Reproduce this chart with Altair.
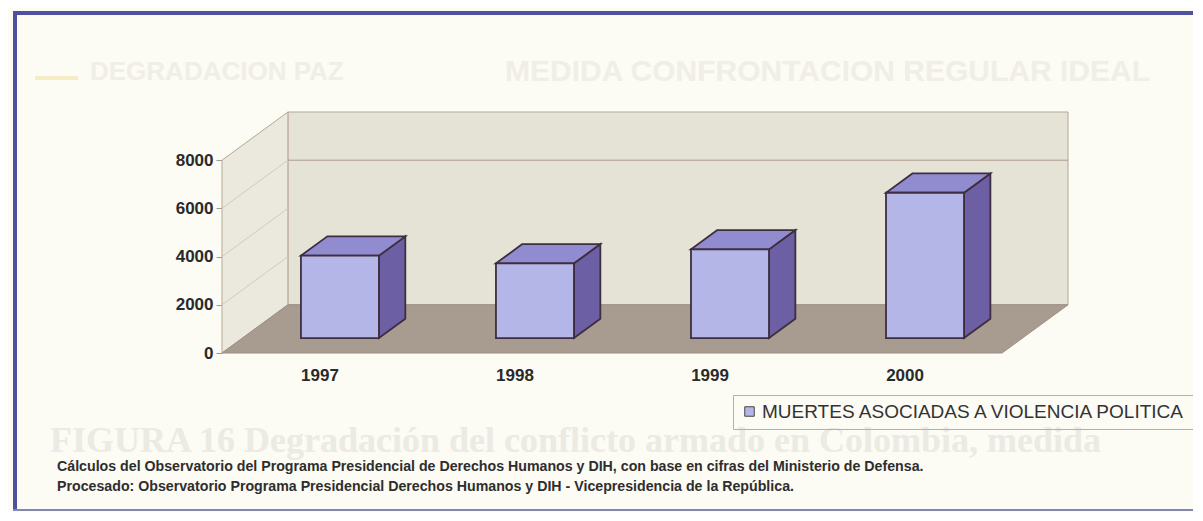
import altair as alt
import pandas as pd

# ---------------- data ----------------
years = ["1997", "1998", "1999", "2000"]
deaths = [3420, 3100, 3680, 6030]
y_ticks = [0, 2000, 4000, 6000, 8000]
back_grid_values = [6000]
side_grid_values = [2000, 4000, 6000]
series_name = "MUERTES ASOCIADAS A VIOLENCIA POLITICA"
note_lines = [
    "Cálculos del Observatorio del Programa Presidencial de Derechos Humanos y DIH, con base en cifras del Ministerio de Defensa.",
    "Procesado: Observatorio Programa Presidencial Derechos Humanos y DIH - Vicepresidencia de la República.",
]
ghost_left = "DEGRADACION PAZ"
ghost_right = "MEDIDA CONFRONTACION REGULAR IDEAL"
ghost_figure = "FIGURA 16   Degradación del conflicto armado en Colombia, medida"

# ---------------- 3-D geometry (in data units) ----------------
N = len(years)
DEPTH_U = 0.338      # horizontal shift of full floor depth (category units)
DEPTH_V = 2000       # vertical shift of full floor depth (value units)
Y_MAX = 8000
BAR_W = 0.40
F1, F2 = 0.31, 0.71  # bar front / back depth fractions

W, H = 846, 241
X_DOM = [0, N + DEPTH_U]
Y_DOM = [0, Y_MAX + DEPTH_V]

FONT = "Liberation Sans, Arial, sans-serif"
FRONT, TOP, SIDE, EDGE = "#b3b6e6", "#918bcf", "#6c5fa4", "#3d2f3f"
WALL, SIDEWALL, FLOOR, WALL_EDGE = "#e5e2d6", "#ebe8dd", "#a89b8f", "#b5a796"

xs = alt.Scale(domain=X_DOM, nice=False, zero=False)
ys = alt.Scale(domain=Y_DOM, nice=False, zero=False)

# walls & floor
back_df = pd.DataFrame({"x": [DEPTH_U], "x2": [N + DEPTH_U], "y": [DEPTH_V], "y2": [Y_MAX + DEPTH_V]})
side_df = pd.DataFrame({"x": [0, DEPTH_U], "lo": [0, DEPTH_V], "hi": [Y_MAX, Y_MAX + DEPTH_V]})
floor_df = pd.DataFrame({"y": [0, DEPTH_V], "xl": [0, DEPTH_U], "xr": [N, N + DEPTH_U]})

back = alt.Chart(back_df).mark_rect(fill=WALL, stroke=WALL_EDGE, strokeWidth=1).encode(
    x=alt.X("x:Q", scale=xs,
            axis=alt.Axis(values=[i + 0.5 for i in range(N)],
                          labelExpr="[" + ",".join(f"'{y}'" for y in years) + "][floor(datum.value)]",
                          title=None, domain=False, ticks=False, grid=False,
                          labelFont=FONT, labelFontWeight="bold", labelFontSize=17,
                          labelColor="#2a2a2a", labelPadding=14)),
    x2="x2:Q",
    y=alt.Y("y:Q", scale=ys,
            axis=alt.Axis(values=y_ticks, format="d", title=None, domain=False, grid=False,
                          tickSize=6, tickColor="#9a9a9a", labelPadding=3,
                          labelFont=FONT, labelFontWeight="bold", labelFontSize=17,
                          labelColor="#2a2a2a")),
    y2="y2:Q",
)

side = alt.Chart(side_df).mark_area(fill=SIDEWALL, stroke=WALL_EDGE, strokeWidth=1).encode(
    x=alt.X("x:Q", scale=xs), y=alt.Y("lo:Q", scale=ys), y2="hi:Q")

floor = alt.Chart(floor_df).mark_area(orient="horizontal", fill=FLOOR, stroke="#9c8f84", strokeWidth=1).encode(
    y=alt.Y("y:Q", scale=ys), x=alt.X("xl:Q", scale=xs), x2="xr:Q")

grid_back_df = pd.DataFrame({"x": DEPTH_U, "x2": N + DEPTH_U,
                             "y": [g + DEPTH_V for g in back_grid_values]})
grid_back = alt.Chart(grid_back_df).mark_rule(stroke="#a89a8a", strokeWidth=1).encode(
    x=alt.X("x:Q", scale=xs), x2="x2:Q", y=alt.Y("y:Q", scale=ys))

grid_side_df = pd.DataFrame({"x": 0.0, "x2": DEPTH_U, "y": side_grid_values,
                             "y2": [g + DEPTH_V for g in side_grid_values]})
grid_side = alt.Chart(grid_side_df).mark_rule(stroke="#d3c9be", strokeWidth=1).encode(
    x=alt.X("x:Q", scale=xs), x2="x2:Q", y=alt.Y("y:Q", scale=ys), y2="y2:Q")

# bars
dd_u = (F2 - F1) * DEPTH_U
dd_v = (F2 - F1) * DEPTH_V
front_rows, side_rows, top_rows = [], [], []
for i, (yr, v) in enumerate(zip(years, deaths)):
    c = i + 0.5 + F1 * DEPTH_U
    xl, xr = c - BAR_W / 2, c + BAR_W / 2
    y0 = F1 * DEPTH_V
    front_rows.append({"year": yr, "serie": series_name, "x": xl, "x2": xr, "y": y0, "y2": y0 + v})
    side_rows += [{"year": yr, "x": xr, "lo": y0, "hi": y0 + v},
                  {"year": yr, "x": xr + dd_u, "lo": y0 + dd_v, "hi": y0 + dd_v + v}]
    top_rows += [{"year": yr, "y": y0 + v, "xl": xl, "xr": xr},
                 {"year": yr, "y": y0 + v + dd_v, "xl": xl + dd_u, "xr": xr + dd_u}]

bar_side = alt.Chart(pd.DataFrame(side_rows)).mark_area(fill=SIDE, stroke=EDGE, strokeWidth=1.8).encode(
    x=alt.X("x:Q", scale=xs), y=alt.Y("lo:Q", scale=ys), y2="hi:Q", detail="year:N")
bar_top = alt.Chart(pd.DataFrame(top_rows)).mark_area(orient="horizontal", fill=TOP, stroke=EDGE, strokeWidth=1.8).encode(
    y=alt.Y("y:Q", scale=ys), x=alt.X("xl:Q", scale=xs), x2="xr:Q", detail="year:N")
bar_front = alt.Chart(pd.DataFrame(front_rows)).mark_rect(stroke=EDGE, strokeWidth=1.8).encode(
    x=alt.X("x:Q", scale=xs), x2="x2:Q", y=alt.Y("y:Q", scale=ys), y2="y2:Q",
    color=alt.Color("serie:N", scale=alt.Scale(domain=[series_name], range=[FRONT]),
                    legend=alt.Legend(orient="none", legendX=511, legendY=283, title=None,
                                      symbolType="square", symbolSize=90,
                                      symbolStrokeColor="#444", symbolStrokeWidth=1,
                                      strokeColor="#b0b0b0", padding=7, labelLimit=800,
                                      labelFont=FONT, labelFontSize=19, labelColor="#333",
                                      labelOffset=3)),
)

# notes
notes = alt.Chart(pd.DataFrame({"k": [0]})).mark_text(
    align="left", baseline="middle", font=FONT, fontWeight="bold", fontSize=14.2,
    color="#2e2e2e", lineHeight=20).encode(
    x=alt.value(-165), y=alt.value(355), text=alt.value(note_lines))

# faint bleed-through text of the scanned page
ghost1 = alt.Chart(pd.DataFrame({"k": [0]})).mark_text(
    align="left", baseline="middle", font=FONT, fontWeight="bold", fontSize=26, color="#f0eee7").encode(
    x=alt.value(90 - 222), y=alt.value(72 - 112), text=alt.value(ghost_left))
ghost2 = alt.Chart(pd.DataFrame({"k": [0]})).mark_text(
    align="left", baseline="middle", font=FONT, fontWeight="bold", fontSize=30, color="#f0eee7").encode(
    x=alt.value(505 - 222), y=alt.value(72 - 112), text=alt.value(ghost_right))
ghost_dash = alt.Chart(pd.DataFrame({"k": [0]})).mark_rule(stroke="#f3ecc4", strokeWidth=4).encode(
    x=alt.value(35 - 222), x2=alt.value(78 - 222), y=alt.value(78 - 112))
ghost3 = alt.Chart(pd.DataFrame({"k": [0]})).mark_text(
    align="left", baseline="middle", font="Liberation Serif, serif", fontWeight="bold", fontSize=36,
    color="#ebeae3").encode(
    x=alt.value(50 - 222), y=alt.value(441 - 112), text=alt.value(ghost_figure))

# page border
border_top = alt.Chart(pd.DataFrame({"k": [0]})).mark_rule(stroke="#4e529e", strokeWidth=4).encode(
    x=alt.value(13 - 222), x2=alt.value(1210 - 222), y=alt.value(13 - 112))
border_left = alt.Chart(pd.DataFrame({"k": [0]})).mark_rule(stroke="#4e529e", strokeWidth=4).encode(
    x=alt.value(15 - 222), y=alt.value(11 - 112), y2=alt.value(511 - 112))
border_bottom = alt.Chart(pd.DataFrame({"k": [0]})).mark_rule(stroke="#8289ad", strokeWidth=2).encode(
    x=alt.value(13 - 222), x2=alt.value(1210 - 222), y=alt.value(510 - 112))

chart = alt.layer(
    ghost1, ghost2, ghost_dash, ghost3,
    back, side, floor, grid_back, grid_side,
    bar_side, bar_top, bar_front,
    notes, border_top, border_left, border_bottom,
).properties(
    width=W, height=H,
    autosize=alt.AutoSizeParams(type="none"),
    padding={"left": 214, "top": 104, "right": 125, "bottom": 159},
).configure(background="#fcfbf4").configure_view(stroke=None)

chart.save("out.html", embed_options={"renderer": "svg", "actions": False})
